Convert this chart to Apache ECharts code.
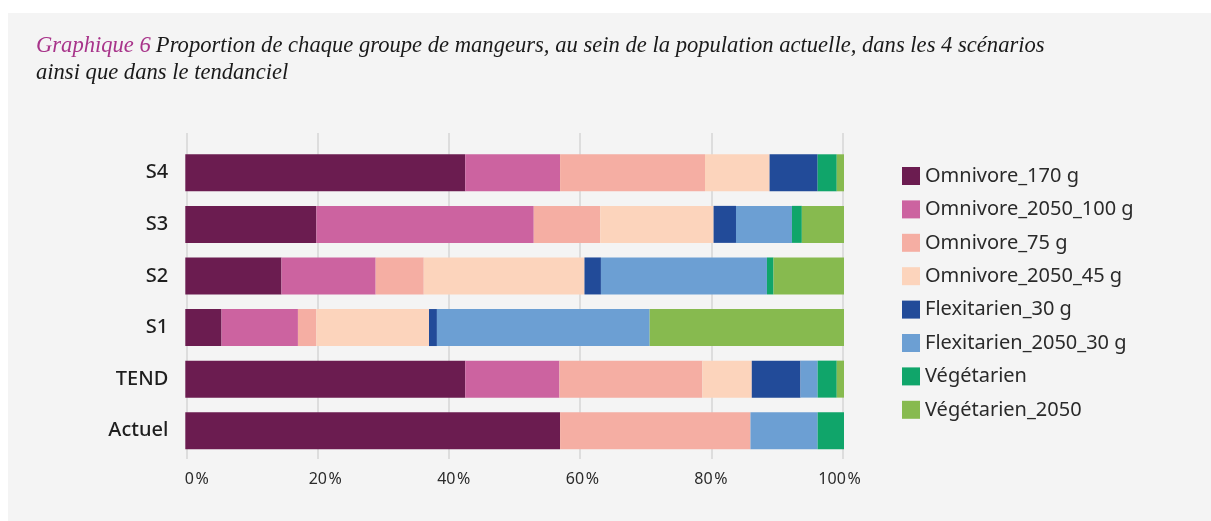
<!DOCTYPE html>
<html>
<head>
<meta charset="utf-8">
<script src="https://cdn.jsdelivr.net/npm/echarts@6/dist/echarts.min.js"></script>
<style>
  html, body { margin: 0; padding: 0; background: #ffffff; }
  #panel { position: absolute; left: 8px; top: 13px; right: 0; bottom: 0; background: #f4f4f4; }
  #chart { position: absolute; left: 0; top: 0; width: 1211px; height: 521px; }
</style>
</head>
<body>
<div id="panel"></div>
<div id="chart"></div>
<script>
// catégories (de bas en haut)
const categories = ["Actuel", "TEND", "S1", "S2", "S3", "S4"];
const seriesNames = [
  "Omnivore_170 g",
  "Omnivore_2050_100 g",
  "Omnivore_75 g",
  "Omnivore_2050_45 g",
  "Flexitarien_30 g",
  "Flexitarien_2050_30 g",
  "Végétarien",
  "Végétarien_2050",
];
// proportions en %
const omni170 = [56.9, 42.5, 5.5, 14.6, 19.9, 42.5];
const omni2050_100 = [0, 14.3, 11.6, 14.3, 33.0, 14.4];
const omni75 = [28.9, 21.7, 2.8, 7.3, 10.1, 22.0];
const omni2050_45 = [0, 7.5, 17.1, 24.4, 17.2, 9.8];
const flexi30 = [0, 7.4, 1.2, 2.5, 3.4, 7.3];
const flexi2050_30 = [10.2, 2.6, 32.3, 25.2, 8.5, 0];
const vege = [4.0, 2.9, 0, 1.0, 1.5, 2.9];
const vege2050 = [0, 1.1, 29.5, 10.7, 6.4, 1.1];
const xTicks = [0, 20, 40, 60, 80, 100];

const colors = ["#6b1c50", "#cc63a0", "#f5aea3", "#fcd4bc", "#224b99", "#6c9fd3", "#10a56a", "#87ba4f"];
const values = [omni170, omni2050_100, omni75, omni2050_45, flexi30, flexi2050_30, vege, vege2050];

let chart = echarts.init(document.getElementById("chart"));
chart.setOption({
  backgroundColor: "transparent",
  animation: false,
  title: {
    left: 36,
    top: 33,
    padding: 0,
    text:
      "{m|Graphique 6} {t|Proportion de chaque groupe de mangeurs, au sein de la population actuelle, dans les 4 scénarios}\n{t|ainsi que dans le tendanciel}",
    textStyle: {
      fontWeight: "normal",
      rich: {
        m: { color: "#a8348a", fontFamily: "Liberation Serif", fontStyle: "italic", fontWeight: "normal", fontSize: 22.6, lineHeight: 27 },
        t: { color: "#1a1a1a", fontFamily: "Liberation Serif", fontStyle: "italic", fontWeight: "normal", fontSize: 22.6, lineHeight: 27 },
      },
    },
  },
  legend: {
    orient: "vertical",
    left: 902,
    top: 166,
    padding: 0,
    itemWidth: 18,
    itemHeight: 18,
    itemGap: 13.4,
    icon: "rect",
    data: seriesNames,
    textStyle: { color: "#2a2a2a", fontFamily: "Noto Sans", fontSize: 20, lineHeight: 18 },
  },
  grid: [
    // barres
    { left: 185.3, right: 367, top: 147, height: 309.5 },
    // lignes verticales
    { left: 186.7, right: 368.5, top: 133, height: 326 },
    // étiquettes de l'axe
    { left: 196.7, right: 371.5, top: 133, height: 326 },
  ],
  xAxis: [
    { gridIndex: 0, type: "value", min: 0, max: 100, interval: 20, show: false },
    {
      gridIndex: 1, type: "value", min: 0, max: 100, interval: 20,
      axisLine: { show: false }, axisTick: { show: false }, axisLabel: { show: false },
      splitLine: { show: true, lineStyle: { color: "#d6d6d6", width: 1.5 } },
    },
    {
      gridIndex: 2, type: "value", min: 0, max: 100, interval: 20,
      axisLine: { show: false }, axisTick: { show: false }, splitLine: { show: false },
      axisLabel: {
        margin: 12,
        color: "#2b2b2b",
        fontFamily: "Noto Sans",
        fontSize: 16,
        formatter: (v) => (xTicks.includes(v) ? v + "\u200a%" : ""),
      },
    },
  ],
  yAxis: [
    {
      gridIndex: 0, type: "category", data: categories,
      axisLine: { show: false }, axisTick: { show: false },
      axisLabel: { margin: 17, color: "#1e1e1e", fontFamily: "Noto Sans", fontSize: 20, fontWeight: 500 },
    },
    { gridIndex: 1, type: "value", show: false },
    { gridIndex: 2, type: "value", show: false },
  ],
  series: seriesNames.map((name, i) => ({
    name: name,
    type: "bar",
    stack: "total",
    xAxisIndex: 0,
    yAxisIndex: 0,
    barWidth: 37,
    itemStyle: { color: colors[i] },
    data: values[i],
  })),
});
</script>
</body>
</html>
